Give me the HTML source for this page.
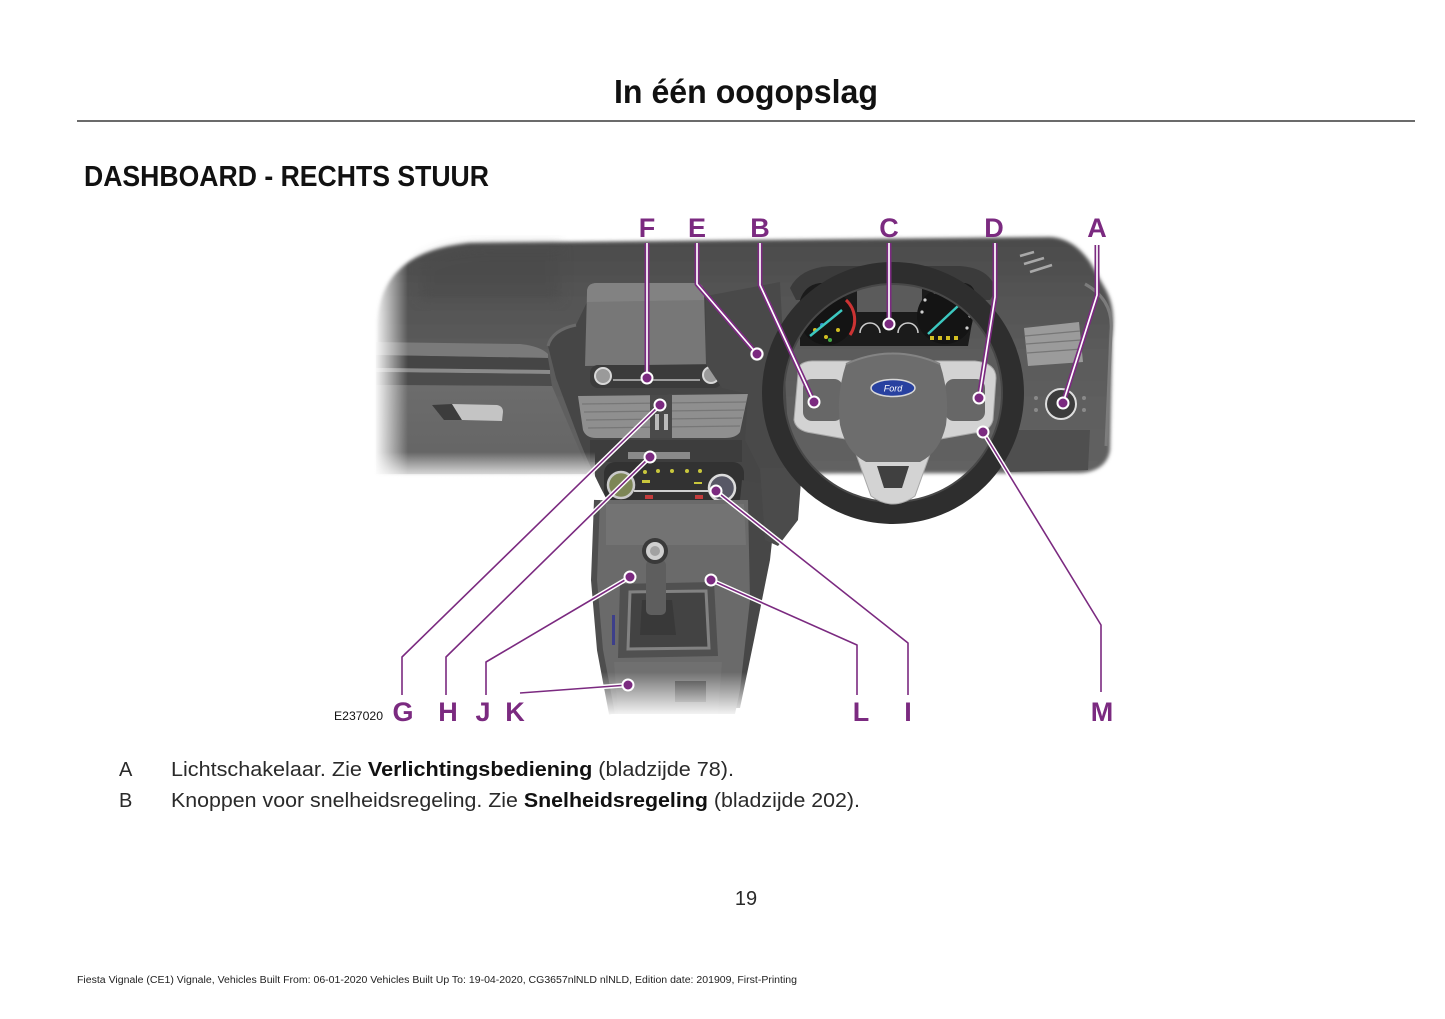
<!DOCTYPE html>
<html>
<head>
<meta charset="utf-8">
<style>
  html,body{margin:0;padding:0;background:#fff;}
  svg{display:block;}
  .t{font-family:"Liberation Sans",Arial,sans-serif;}
</style>
</head>
<body>
<svg width="1445" height="1019" viewBox="0 0 1445 1019" xmlns="http://www.w3.org/2000/svg">
  <defs>
    <linearGradient id="dashG" x1="0" y1="238" x2="0" y2="472" gradientUnits="userSpaceOnUse">
      <stop offset="0" stop-color="#4b4b4b"/>
      <stop offset="0.45" stop-color="#5a5a5a"/>
      <stop offset="1" stop-color="#626262"/>
    </linearGradient>
    <linearGradient id="gloveG" x1="0" y1="385" x2="0" y2="472" gradientUnits="userSpaceOnUse">
      <stop offset="0" stop-color="#6c6c6c"/>
      <stop offset="1" stop-color="#646464"/>
    </linearGradient>
    <linearGradient id="leftFade" x1="374" y1="0" x2="408" y2="0" gradientUnits="userSpaceOnUse">
      <stop offset="0" stop-color="#fff" stop-opacity="1"/>
      <stop offset="1" stop-color="#fff" stop-opacity="0"/>
    </linearGradient>
    <linearGradient id="botFade" x1="0" y1="452" x2="0" y2="482" gradientUnits="userSpaceOnUse">
      <stop offset="0" stop-color="#fff" stop-opacity="0"/>
      <stop offset="1" stop-color="#fff" stop-opacity="1"/>
    </linearGradient>
    <linearGradient id="conFade" x1="0" y1="672" x2="0" y2="718" gradientUnits="userSpaceOnUse">
      <stop offset="0" stop-color="#fff" stop-opacity="0"/>
      <stop offset="1" stop-color="#fff" stop-opacity="1"/>
    </linearGradient>
    <filter id="soft" x="-5%" y="-5%" width="110%" height="110%">
      <feGaussianBlur stdDeviation="1.8"/>
    </filter>
    <filter id="soft2" x="-20%" y="-20%" width="140%" height="140%">
      <feGaussianBlur stdDeviation="6"/>
    </filter>
  </defs>

  <!-- Header -->
  <text class="t" x="614" y="103" font-size="33" font-weight="bold" fill="#111" textLength="264" lengthAdjust="spacingAndGlyphs">In één oogopslag</text>
  <line x1="77" y1="121" x2="1415" y2="121" stroke="#3a3a3a" stroke-width="1.5"/>
  <text class="t" x="84" y="186" font-size="28.5" font-weight="bold" fill="#111" textLength="405" lengthAdjust="spacingAndGlyphs">DASHBOARD - RECHTS STUUR</text>

  <!-- ============ PHOTO ============ -->
  <g>
    <!-- main dash body -->
    <path d="M 376 325 C 380 272, 412 249, 470 243 L 1050 237 C 1068 238, 1080 248, 1090 262 L 1106 290 C 1114 305, 1114 320, 1112 340 L 1110 450 C 1108 465, 1095 473, 1078 473 L 376 474 Z" fill="url(#dashG)" filter="url(#soft)"/>
    <path d="M 420 262 C 440 250, 460 247, 490 246 L 560 246 L 560 300 L 420 300 Z" fill="#4a4a4a" opacity="0.5" filter="url(#soft2)"/>

    <!-- left trim strips -->
    <path d="M 376 342 L 520 344 Q 540 346 548 354 L 548 358 L 376 355 Z" fill="#7a7a7a"/>
    <path d="M 376 355 L 548 358 L 550 370 L 376 368 Z" fill="#454545"/>
    <path d="M 376 368 L 550 370 L 550 374 L 376 372 Z" fill="#8a8a8a"/>
    <path d="M 376 372 L 550 374 L 552 386 L 376 385 Z" fill="#4c4c4c"/>
    <!-- glovebox -->
    <path d="M 376 385 L 552 386 L 575 440 L 590 474 L 376 474 Z" fill="url(#gloveG)"/>
    <!-- glovebox handle -->
    <path d="M 432 405 L 452 404 L 462 420 L 444 420 Z" fill="#3c3c3c"/>
    <path d="M 452 404 L 497 405 Q 503 406 503 412 L 502 421 L 462 420 Z" fill="#c4c4c4"/>

    <!-- center stack bezel -->
    <path d="M 548 346 Q 552 330 576 325 L 588 300 L 706 296 L 770 288 L 778 470 L 745 502 L 608 502 Q 592 472 580 442 L 556 378 Z" fill="#464646"/>
    <path d="M 548 346 Q 552 330 576 325" stroke="#6a6a6a" stroke-width="3" fill="none"/>
    <!-- screen -->
    <path d="M 587 292 Q 587 283 597 283 L 695 283 Q 704 283 704 292 L 706 364 L 585 366 Z" fill="#777"/>
    <path d="M 587 292 Q 587 283 597 283 L 695 283 Q 704 283 704 292 L 704 300 L 587 302 Z" fill="#828282"/>
    <!-- strip below screen -->
    <rect x="590" y="365" width="132" height="23" rx="8" fill="#3b3b3b"/>
    <line x1="613" y1="380" x2="700" y2="380" stroke="#bdbdbd" stroke-width="1.5"/>
    <circle cx="603" cy="376" r="8" fill="#9a9a9a" stroke="#d8d8d8" stroke-width="2"/>
    <circle cx="711" cy="375" r="8" fill="#9a9a9a" stroke="#d8d8d8" stroke-width="2"/>
    <!-- vents -->
    <path d="M 578 396 L 748 394 L 740 432 Q 736 438 725 438 L 596 438 Q 586 438 583 430 Z" fill="#8f8f8f"/>
    <g stroke="#777" stroke-width="1.2">
      <line x1="582" y1="404" x2="746" y2="402"/>
      <line x1="584" y1="412" x2="744" y2="410"/>
      <line x1="586" y1="420" x2="742" y2="418"/>
      <line x1="588" y1="428" x2="740" y2="426"/>
    </g>
    <rect x="650" y="395" width="22" height="43" fill="#4a4a4a"/>
    <rect x="655" y="414" width="4" height="16" fill="#bbb"/>
    <rect x="664" y="414" width="4" height="16" fill="#bbb"/>
    <!-- band below vents -->
    <rect x="590" y="440" width="152" height="22" fill="#3d3d3d"/>
    <rect x="628" y="452" width="62" height="7" fill="#8a8a8a"/>
    <!-- climate panel -->
    <rect x="604" y="462" width="140" height="40" rx="11" fill="#323232"/>
    <circle cx="621" cy="485" r="13" fill="#7d8656" stroke="#c9c9c9" stroke-width="2.5"/>
    <circle cx="722" cy="488" r="13" fill="#585866" stroke="#dcdcdc" stroke-width="2.5"/>
    <line x1="634" y1="491" x2="712" y2="491" stroke="#cfcfcf" stroke-width="2"/>
    <g fill="#c9c73c">
      <circle cx="645" cy="472" r="2"/><circle cx="658" cy="471" r="2"/><circle cx="672" cy="471" r="2"/><circle cx="687" cy="471" r="2"/><circle cx="700" cy="471" r="2"/>
      <rect x="642" y="480" width="8" height="3"/><rect x="694" y="482" width="8" height="2"/>
    </g>
    <rect x="645" y="495" width="8" height="4" fill="#c43c3c"/>
    <rect x="695" y="495" width="8" height="4" fill="#c43c3c"/>

    <!-- dark region between stack and wheel -->
    <path d="M 706 296 L 780 282 L 790 470 L 760 470 L 745 440 L 748 394 L 722 388 L 706 364 Z" fill="#494949"/>
    <circle cx="757" cy="354" r="7" fill="#777"/>

    <!-- console side panel -->
    <path d="M 742 480 L 778 486 L 770 560 L 754 640 L 740 708 L 722 708 L 740 500 Z" fill="#474747"/>
    <!-- column shroud -->
    <path d="M 760 468 L 802 468 L 798 520 L 778 546 L 765 540 Z" fill="#4b4b4b"/>
    <!-- console -->
    <path d="M 597 500 L 748 500 L 750 600 L 740 690 L 735 714 L 612 714 L 600 650 L 594 560 Z" fill="#6a6a6a"/>
    <path d="M 597 500 L 594 580 L 600 650 L 612 714" stroke="#4e4e4e" stroke-width="6" fill="none"/>
    <path d="M 606 504 L 744 504 L 746 545 L 606 545 Z" fill="#737373"/>
    <!-- gear boot -->
    <path d="M 620 584 L 714 582 L 718 656 L 618 658 Z" fill="#505050"/>
    <path d="M 630 592 L 706 591 L 709 648 L 628 649 Z" fill="#434343" stroke="#828282" stroke-width="3"/>
    <path d="M 642 600 L 672 600 L 676 635 L 640 635 Z" fill="#393939"/>
    <rect x="646" y="560" width="20" height="55" rx="5" fill="#5e5e5e"/>
    <circle cx="655" cy="551" r="13" fill="#3a3a3a"/>
    <circle cx="655" cy="551" r="9" fill="#d0d0d0"/>
    <circle cx="655" cy="551" r="5" fill="#a2a2a2"/>
    <!-- lower console -->
    <path d="M 614 662 L 722 662 L 718 714 L 618 714 Z" fill="#707070"/>
    <rect x="675" y="681" width="31" height="21" fill="#3e3e3e"/>
    <rect x="612" y="615" width="3" height="30" fill="#3d3f8a"/>

    <!-- right dash details -->
    <path d="M 1085 284 Q 1114 300 1111 332 L 1106 446" stroke="#7c7c7c" stroke-width="3" fill="none"/>
    <path d="M 1024 328 L 1079 322 L 1083 362 L 1028 366 Z" fill="#9b9b9b"/>
    <g stroke="#777" stroke-width="1.2">
      <line x1="1025" y1="336" x2="1080" y2="331"/>
      <line x1="1026" y1="344" x2="1081" y2="340"/>
      <line x1="1027" y1="353" x2="1082" y2="349"/>
    </g>
    <g stroke="#a8a8a8" stroke-width="2.5">
      <line x1="1020" y1="256" x2="1034" y2="252"/>
      <line x1="1024" y1="264" x2="1044" y2="258"/>
      <line x1="1030" y1="272" x2="1052" y2="265"/>
    </g>
    <path d="M 1005 430 L 1090 430 L 1088 470 L 1005 472 Z" fill="#4f4f4f"/>
    <circle cx="1061" cy="404" r="15" fill="#3c3c3c" stroke="#dedede" stroke-width="2"/>
    <g fill="#8a8a8a">
      <circle cx="1036" cy="398" r="2"/><circle cx="1036" cy="410" r="2"/><circle cx="1084" cy="398" r="2"/><circle cx="1084" cy="410" r="2"/>
    </g>

    <!-- instrument cluster -->
    <path d="M 790 288 Q 800 268 830 266 L 960 266 Q 990 268 996 290 L 990 300 L 796 300 Z" fill="#3b3b3b"/>
    <path d="M 800 300 Q 805 285 820 283 L 965 283 Q 976 285 976 300 L 968 346 L 800 346 Z" fill="#1b1b1b"/>
    <rect x="857" y="278" width="65" height="34" fill="#5b5b5b"/>
    <circle cx="827" cy="318" r="27" fill="#141414"/>
    <path d="M 846 300 A 27 27 0 0 1 850 335" stroke="#c33" stroke-width="3" fill="none"/>
    <g fill="#d2be22">
      <circle cx="812" cy="305" r="2"/><circle cx="820" cy="298" r="2"/><circle cx="832" cy="300" r="2"/><circle cx="815" cy="330" r="2"/><circle cx="838" cy="330" r="2"/><circle cx="826" cy="337" r="2"/>
    </g>
    <circle cx="810" cy="318" r="2" fill="#c33"/><circle cx="830" cy="340" r="2" fill="#4a4"/><circle cx="822" cy="325" r="2" fill="#38c"/>
    <line x1="810" y1="336" x2="842" y2="310" stroke="#3cc8c0" stroke-width="2.5"/>
    <circle cx="945" cy="316" r="28" fill="#141414"/>
    <g fill="#cfcfcf">
      <circle cx="925" cy="300" r="1.6"/><circle cx="935" cy="292" r="1.6"/><circle cx="947" cy="290" r="1.6"/><circle cx="959" cy="294" r="1.6"/><circle cx="967" cy="304" r="1.6"/><circle cx="970" cy="316" r="1.6"/><circle cx="967" cy="328" r="1.6"/><circle cx="922" cy="312" r="1.6"/>
    </g>
    <g fill="#d2be22"><rect x="930" y="336" width="4" height="4"/><rect x="938" y="336" width="4" height="4"/><rect x="946" y="336" width="4" height="4"/><rect x="954" y="336" width="4" height="4"/></g>
    <line x1="928" y1="334" x2="958" y2="306" stroke="#3cc8c0" stroke-width="2.5"/>
    <path d="M 860 333 A 10 10 0 0 1 880 333" stroke="#ccc" stroke-width="1.5" fill="none"/>
    <path d="M 898 333 A 10 10 0 0 1 918 333" stroke="#ccc" stroke-width="1.5" fill="none"/>
    <circle cx="927" cy="281" r="2.2" fill="#33cc33"/>

    <!-- steering wheel rim -->
    <circle cx="893" cy="393" r="120" fill="none" stroke="#2e2e2e" stroke-width="22"/>
    <circle cx="893" cy="393" r="109" fill="none" stroke="#484848" stroke-width="2"/>
    <!-- bezel -->
    <path d="M 798 374 Q 796 362 812 361 L 975 361 Q 996 363 996 378 L 993 420 Q 990 432 974 433 L 935 440 L 915 496 Q 893 512 871 496 L 851 440 L 812 433 Q 796 431 794 420 Z" fill="#d3d3d3" stroke="#a8a8a8" stroke-width="1"/>
    <rect x="803" y="379" width="40" height="42" rx="9" fill="#676767"/>
    <rect x="945" y="379" width="40" height="42" rx="9" fill="#676767"/>
    <path d="M 877 466 L 909 466 L 902 488 L 884 488 Z" fill="#404040"/>
    <!-- airbag -->
    <path d="M 846 364 Q 893 343 940 364 Q 950 395 946 425 Q 940 452 920 462 L 866 462 Q 846 452 840 425 Q 836 395 846 364 Z" fill="#6d6d6d"/>
    <path d="M 846 364 Q 893 343 940 364" stroke="#848484" stroke-width="2" fill="none"/>
    <!-- Ford logo -->
    <ellipse cx="893" cy="388" rx="22" ry="8.5" fill="#2841a0" stroke="#d8d8d8" stroke-width="1.5"/>
    <text class="t" x="893" y="391.5" font-size="9" font-style="italic" fill="#fff" text-anchor="middle">Ford</text>

    <!-- fades -->
    <rect x="360" y="230" width="50" height="260" fill="url(#leftFade)"/>
    <rect x="360" y="452" width="235" height="32" fill="url(#botFade)"/>
    <rect x="585" y="672" width="200" height="50" fill="url(#conFade)"/>
  </g>

  <!-- ============ LEADERS ============ -->
  <g fill="none" stroke-linejoin="round">
    <g stroke="#7b2a80" stroke-width="5">
      <path d="M 647 243 L 647 378"/>
      <path d="M 697 243 L 697 284 L 757 354"/>
      <path d="M 760 243 L 760 285 L 814 402"/>
      <path d="M 889 243 L 889 324"/>
      <path d="M 995 243 L 995 297 L 979 398"/>
      <path d="M 1097 245 L 1097 295 L 1063 403"/>
    </g>
    <g stroke="#fff" stroke-width="1.7">
      <path d="M 647 243 L 647 378"/>
      <path d="M 697 243 L 697 284 L 757 354"/>
      <path d="M 760 243 L 760 285 L 814 402"/>
      <path d="M 889 243 L 889 324"/>
      <path d="M 995 243 L 995 297 L 979 398"/>
      <path d="M 1097 245 L 1097 295 L 1063 403"/>
    </g>
    <g stroke="#fff" stroke-width="4.5">
      <path d="M 660 405 L 402 657 L 402 695"/>
      <path d="M 650 457 L 446 657 L 446 695"/>
      <path d="M 630 577 L 486 662 L 486 695"/>
      <path d="M 628 685 L 520 693"/>
      <path d="M 711 580 L 857 645 L 857 695"/>
      <path d="M 716 491 L 908 643 L 908 695"/>
      <path d="M 983 432 L 1101 625 L 1101 692"/>
    </g>
    <g stroke="#7b2a80" stroke-width="1.6">
      <path d="M 660 405 L 402 657 L 402 695"/>
      <path d="M 650 457 L 446 657 L 446 695"/>
      <path d="M 630 577 L 486 662 L 486 695"/>
      <path d="M 628 685 L 520 693"/>
      <path d="M 711 580 L 857 645 L 857 695"/>
      <path d="M 716 491 L 908 643 L 908 695"/>
      <path d="M 983 432 L 1101 625 L 1101 692"/>
    </g>
  </g>
  <g fill="#7b2a80" stroke="#fff" stroke-width="2">
    <circle cx="647" cy="378" r="5.5"/>
    <circle cx="757" cy="354" r="5.5"/>
    <circle cx="814" cy="402" r="5.5"/>
    <circle cx="889" cy="324" r="5.5"/>
    <circle cx="979" cy="398" r="5.5"/>
    <circle cx="1063" cy="403" r="5.5"/>
    <circle cx="660" cy="405" r="5.5"/>
    <circle cx="650" cy="457" r="5.5"/>
    <circle cx="630" cy="577" r="5.5"/>
    <circle cx="628" cy="685" r="5.5"/>
    <circle cx="711" cy="580" r="5.5"/>
    <circle cx="716" cy="491" r="5.5"/>
    <circle cx="983" cy="432" r="5.5"/>
  </g>

  <!-- callout letters -->
  <g class="t" font-size="27" font-weight="bold" fill="#7b2a80" text-anchor="middle">
    <text x="647" y="237">F</text>
    <text x="697" y="237">E</text>
    <text x="760" y="237">B</text>
    <text x="889" y="237">C</text>
    <text x="994" y="237">D</text>
    <text x="1097" y="237">A</text>
    <text x="403" y="721">G</text>
    <text x="448" y="721">H</text>
    <text x="483" y="721">J</text>
    <text x="515" y="721">K</text>
    <text x="861" y="721">L</text>
    <text x="908" y="721">I</text>
    <text x="1102" y="721">M</text>
  </g>
  <text class="t" x="334" y="720" font-size="11.5" fill="#111" textLength="49" lengthAdjust="spacingAndGlyphs">E237020</text>

  <!-- body text -->
  <g class="t" font-size="20" fill="#2a2a2a">
    <text x="119" y="776">A</text>
    <text x="171" y="776" textLength="563" lengthAdjust="spacingAndGlyphs">Lichtschakelaar. Zie <tspan font-weight="bold" fill="#111">Verlichtingsbediening</tspan> (bladzijde 78).</text>
    <text x="119" y="807">B</text>
    <text x="171" y="807" textLength="689" lengthAdjust="spacingAndGlyphs">Knoppen voor snelheidsregeling. Zie <tspan font-weight="bold" fill="#111">Snelheidsregeling</tspan> (bladzijde 202).</text>
  </g>
  <text class="t" x="746" y="905" font-size="20" fill="#2a2a2a" text-anchor="middle">19</text>
  <text class="t" x="77" y="983" font-size="10" fill="#222" textLength="720" lengthAdjust="spacingAndGlyphs">Fiesta Vignale (CE1) Vignale, Vehicles Built From: 06-01-2020 Vehicles Built Up To: 19-04-2020, CG3657nlNLD nlNLD, Edition date: 201909, First-Printing</text>
</svg>
</body>
</html>
